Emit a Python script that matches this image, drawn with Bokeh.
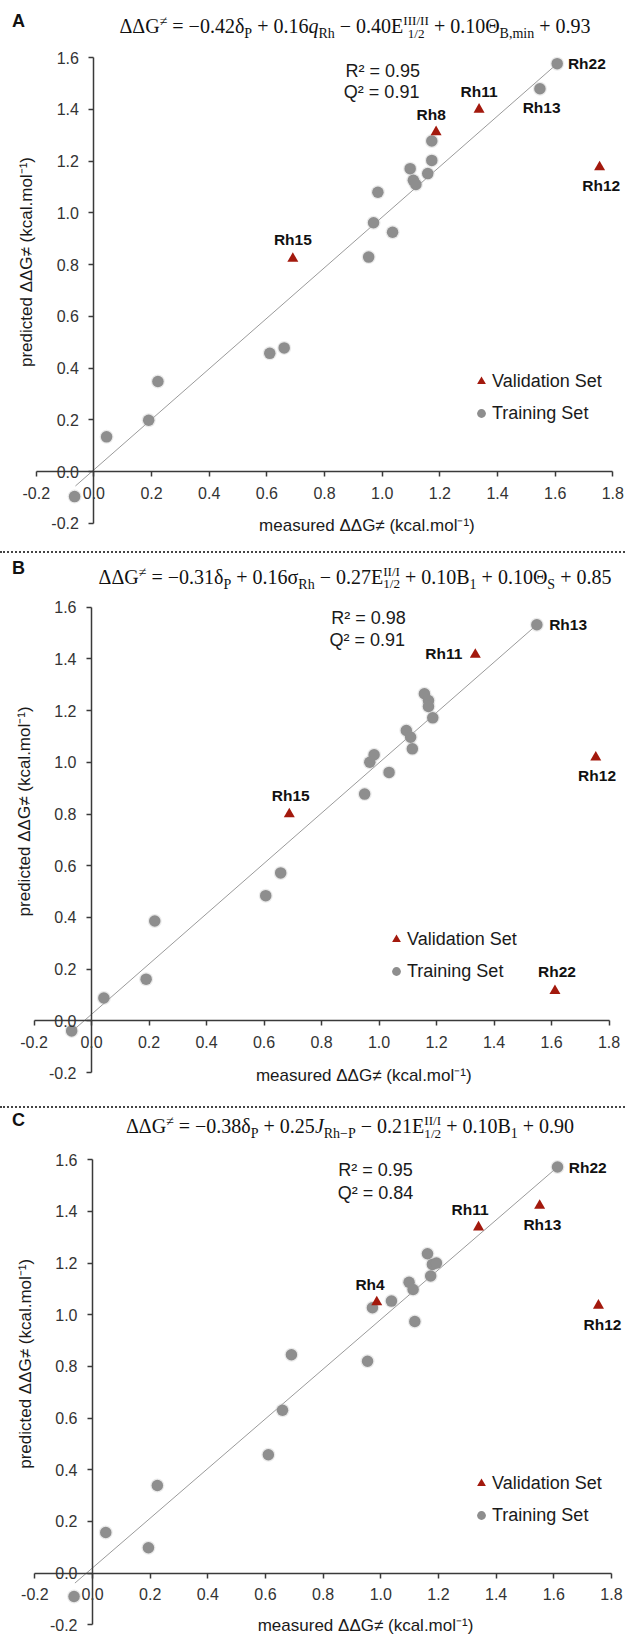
import math
from bokeh.plotting import figure
from bokeh.models import (Range1d, FixedTicker, NumeralTickFormatter, Label,
                          Legend, LegendItem, Div)
from bokeh.layouts import column
from bokeh.embed import file_html
from bokeh.resources import INLINE

# ---------------- data ----------------
x_ticks = [-0.2, 0.0, 0.2, 0.4, 0.6, 0.8, 1.0, 1.2, 1.4, 1.6, 1.8]
y_ticks = [-0.2, 0.0, 0.2, 0.4, 0.6, 0.8, 1.0, 1.2, 1.4, 1.6]
x_title = "measured ΔΔG≠ (kcal.mol⁻¹)"
y_title = "predicted ΔΔG≠ (kcal.mol⁻¹)"
legend_labels = ["Validation Set", "Training Set"]

# Panel A
A_train_x = [1.607, 1.547, 1.172, 1.172, 1.097, 1.158, 1.108, 1.117, 0.985, 0.970,
             1.036, 0.953, 0.660, 0.610, 0.222, 0.190, 0.044, -0.067]
A_train_y = [1.577, 1.480, 1.278, 1.203, 1.171, 1.152, 1.126, 1.110, 1.080, 0.962,
             0.925, 0.829, 0.478, 0.457, 0.348, 0.198, 0.134, -0.097]
A_train_names = ["Rh22", "Rh13"]
A_valid_x = [0.690, 1.187, 1.336, 1.754]
A_valid_y = [0.823, 1.313, 1.400, 1.177]
A_valid_names = ["Rh15", "Rh8", "Rh11", "Rh12"]
A_fit_x = [-0.064, 1.607]
A_fit_y = [-0.056, 1.577]
A_stats = ["R² = 0.95", "Q² = 0.91"]

# Panel B
B_train_x = [1.549, 1.158, 1.172, 1.172, 1.187, 1.095, 1.110, 1.116, 0.983, 0.968,
             1.035, 0.950, 0.658, 0.606, 0.220, 0.190, 0.043, -0.069]
B_train_y = [1.532, 1.265, 1.239, 1.216, 1.172, 1.123, 1.097, 1.052, 1.029, 1.000,
             0.961, 0.877, 0.572, 0.484, 0.386, 0.161, 0.088, -0.039]
B_train_names = ["Rh13"]
B_valid_x = [0.688, 1.335, 1.754, 1.612]
B_valid_y = [0.800, 1.417, 1.019, 0.116]
B_valid_names = ["Rh15", "Rh11", "Rh12", "Rh22"]
B_fit_x = [-0.072, 1.549]
B_fit_y = [-0.045, 1.532]
B_stats = ["R² = 0.98", "Q² = 0.91"]

# Panel C
C_train_x = [1.613, 1.162, 1.179, 1.193, 1.173, 1.098, 1.112, 1.037, 0.971, 1.118,
             0.690, 0.954, 0.659, 0.610, 0.225, 0.194, 0.046, -0.064]
C_train_y = [1.572, 1.236, 1.195, 1.200, 1.150, 1.126, 1.098, 1.053, 1.027, 0.974,
             0.845, 0.820, 0.630, 0.458, 0.339, 0.098, 0.157, -0.091]
C_train_names = ["Rh22"]
C_valid_x = [0.986, 1.339, 1.551, 1.755]
C_valid_y = [1.049, 1.339, 1.423, 1.036]
C_valid_names = ["Rh4", "Rh11", "Rh13", "Rh12"]
C_fit_x = [-0.061, 1.613]
C_fit_y = [-0.039, 1.572]
C_stats = ["R² = 0.95", "Q² = 0.84"]


# ---------------- formula html ----------------
def sub(t):
    return f'<span style="font-size:0.7em;position:relative;top:0.35em">{t}</span>'


def sup(t):
    return f'<span style="font-size:0.7em;position:relative;top:-0.5em">{t}</span>'


def subsup(sp, sb):
    return ('<span style="font-size:0.66em;position:relative">'
            f'<span style="position:relative;top:-0.62em">{sp}</span>'
            '<span style="position:absolute;left:0;right:0;text-align:center;'
            f'top:0.42em">{sb}</span></span>')


A_formula = (f'ΔΔG{sup("≠")} = −0.42δ{sub("P")} + 0.16<i>q</i>{sub("Rh")} − '
             f'0.40E{subsup("III/II", "1/2")} + 0.10Θ{sub("B,min")} + 0.93')
B_formula = (f'ΔΔG{sup("≠")} = −0.31δ{sub("P")} + 0.16σ{sub("Rh")} − '
             f'0.27E{subsup("II/I", "1/2")} + 0.10B{sub("1")} + 0.10Θ{sub("S")} + 0.85')
C_formula = (f'ΔΔG{sup("≠")} = −0.38δ{sub("P")} + 0.25<i>J</i>{sub("Rh−P")} − '
             f'0.21E{subsup("II/I", "1/2")} + 0.10B{sub("1")} + 0.90')

SANS = "Liberation Sans"
TXT = "#1a1a1a"
GRAY = "#8e8e8e"
RED = "#a3190d"
W = 625


def header(letter, formula, h, ly, fx, fy):
    html = (f'<div style="position:relative;width:{W}px;height:{h}px;">'
            f'<span style="position:absolute;left:12px;top:{ly}px;transform:translateY(-50%);'
            f'font-family:\'{SANS}\';font-weight:bold;font-size:18px;line-height:1;color:#111">{letter}</span>'
            f'<span style="position:absolute;left:{fx}px;top:{fy}px;transform:translate(-50%,-50%);'
            f'white-space:nowrap;font-family:\'Liberation Serif\';font-size:20px;line-height:1;color:#111">'
            f'{formula}</span></div>')
    return Div(text=html, width=W, height=h, margin=0)


def separator(h, ly):
    html = (f'<div style="position:relative;width:{W}px;height:{h}px;">'
            f'<div style="position:absolute;left:0;width:{W}px;top:{ly}px;'
            f'border-top:2px dotted #444"></div></div>')
    return Div(text=html, width=W, height=h, margin=0)


def panel(tx, ty, tnames, vx, vy, vnames, fx, fy, stats, offsets,
          fig_top, fig_h, ox, oy, sx, sy, stat_pos, leg_loc, xt_y):
    # frame == whole canvas; ranges chosen so that the axes sit where they do in the original
    xr = Range1d(-ox / sx, (W - ox) / sx)
    yr = Range1d(-(fig_top + fig_h - oy) / sy, (oy - fig_top) / sy)
    p = figure(width=W, height=fig_h, x_range=xr, y_range=yr, output_backend="svg",
               toolbar_location=None, title=None,
               min_border_left=0, min_border_right=0,
               min_border_top=0, min_border_bottom=0)
    p.outline_line_color = None
    p.background_fill_color = "white"
    p.grid.visible = False
    for ax, ticks in ((p.xaxis, x_ticks), (p.yaxis, y_ticks)):
        ax.fixed_location = 0
        ax.bounds = (ticks[0], ticks[-1])
        ax.ticker = FixedTicker(ticks=ticks)
        ax.formatter = NumeralTickFormatter(format="0.0")
        ax.axis_line_color = "#3a3a3a"
        ax.axis_line_width = 1.5
        ax.major_tick_line_color = "#3a3a3a"
        ax.major_tick_line_width = 1.5
        ax.major_tick_out = 5
        ax.major_tick_in = 0
        ax.minor_tick_line_color = None
        ax.major_label_text_font = SANS
        ax.major_label_text_font_size = "16px"
        ax.major_label_text_color = "#333333"
        ax.major_label_standoff = 10

    p.line(fx, fy, line_color="#9a9a9a", line_width=1)
    p.scatter(tx, ty, marker="circle", size=14, fill_color="#c4c4c4",
              fill_alpha=0.35, line_color=None)
    circ = p.scatter(tx, ty, marker="circle", size=11.5, fill_color=GRAY,
                     line_color=None)
    tri = p.scatter(vx, vy, marker="triangle", size=11, fill_color=RED,
                    line_color=None)

    pts = {}
    for i, n in enumerate(tnames):
        pts[n] = (tx[i], ty[i])
    for i, n in enumerate(vnames):
        pts[n] = (vx[i], vy[i])
    for n, (dx, dy, al) in offsets.items():
        x, y = pts[n]
        p.add_layout(Label(x=x, y=y, x_offset=dx, y_offset=dy, text=n,
                           text_align=al, text_baseline="middle",
                           text_font=SANS, text_font_style="bold",
                           text_font_size="15.5px", text_color="#111"))

    for s, (px_, py_) in zip(stats, stat_pos):
        p.add_layout(Label(x=px_, y=py_, text=s, text_align="left",
                           text_baseline="middle", text_font=SANS,
                           text_font_size="18px", text_color=TXT))

    p.add_layout(Label(x=0.947, y=xt_y, text=x_title, text_align="center",
                       text_baseline="middle", text_font=SANS,
                       text_font_size="17px", text_color=TXT))
    p.add_layout(Label(x=-0.233, y=0.81, text=y_title, text_align="center",
                       text_baseline="middle", text_font=SANS, angle=math.pi / 2,
                       text_font_size="17px", text_color=TXT))

    leg = Legend(items=[LegendItem(label=legend_labels[0], renderers=[tri]),
                        LegendItem(label=legend_labels[1], renderers=[circ])],
                 location=leg_loc, glyph_width=22, glyph_height=22,
                 label_height=22, label_standoff=0, spacing=10, padding=0,
                 margin=0, border_line_color=None, background_fill_alpha=0,
                 label_text_font=SANS, label_text_font_size="18px",
                 label_text_color=TXT)
    p.add_layout(leg)
    return p


A_offsets = {"Rh22": (10.7, 0, "left"), "Rh13": (1.7, -18.7, "center"),
             "Rh11": (0, 18, "center"), "Rh8": (-5, 17.7, "center"),
             "Rh12": (1.7, -18.3, "center"), "Rh15": (0, 19.3, "center")}
B_offsets = {"Rh13": (12.3, 0, "left"), "Rh11": (-13, 1, "right"),
             "Rh15": (1.4, 19, "center"), "Rh12": (1.3, -18.3, "center"),
             "Rh22": (2, 19, "center")}
C_offsets = {"Rh22": (11.3, 0, "left"), "Rh13": (2.7, -19.3, "center"),
             "Rh11": (-8.4, 17.4, "center"), "Rh4": (-6.7, 17.7, "center"),
             "Rh12": (4, -19, "center")}

pA = panel(A_train_x, A_train_y, A_train_names, A_valid_x, A_valid_y, A_valid_names,
           A_fit_x, A_fit_y, A_stats, A_offsets,
           45, 495, 93.4, 471.0, 288.3, 258.6,
           [(0.873, 1.550), (0.867, 1.466)], (470, 116), -0.21)
pB = panel(B_train_x, B_train_y, B_train_names, B_valid_x, B_valid_y, B_valid_names,
           B_fit_x, B_fit_y, B_stats, B_offsets,
           594, 498, 91.0, 1020.3, 287.5, 258.5,
           [(0.834, 1.560), (0.828, 1.472)], (385, 110), -0.21)
pC = panel(C_train_x, C_train_y, C_train_names, C_valid_x, C_valid_y, C_valid_names,
           C_fit_x, C_fit_y, C_stats, C_offsets,
           1146, 489, 92.0, 1572.5, 288.3, 258.25,
           [(0.852, 1.561), (0.851, 1.473)], (470, 109), -0.205)

layout = column(
    header("A", A_formula, 45, 21, 355, 26), pA,
    separator(20, 11),
    header("B", B_formula, 34, 8, 355, 16.7), pB,
    separator(20, 14),
    header("C", C_formula, 34, 8, 350, 14), pC,
    spacing=0,
)

open("out.html", "w").write(file_html(layout, INLINE))
